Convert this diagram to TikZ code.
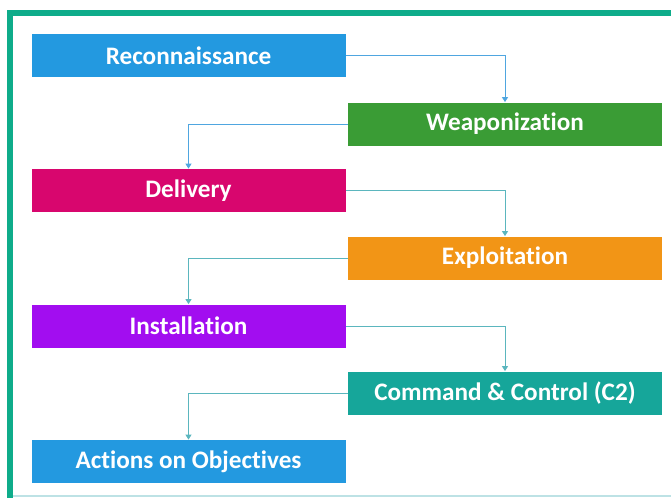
\documentclass[tikz,border=0pt]{standalone}
\usepackage{fontspec}
\setmainfont[Ligatures=NoCommon]{Carlito}
\definecolor{killblue}{HTML}{2399E0}
\definecolor{killgreen}{HTML}{3A9C35}
\definecolor{killmagenta}{HTML}{D8066E}
\definecolor{killorange}{HTML}{F29516}
\definecolor{killpurple}{HTML}{A20DF0}
\definecolor{killteal}{HTML}{16A69A}
\definecolor{killframe}{HTML}{0EAC8A}
\definecolor{linkblue}{HTML}{4FA6E0}
\definecolor{linkteal}{HTML}{5BB6BE}
\usetikzlibrary{arrows.meta}

\begin{document}
\begin{tikzpicture}[x=0.5pt, y=-0.5pt,
    stage/.style={minimum width=157pt, minimum height=21.5pt, inner sep=0pt,
      text=white, font=\fontsize{12.6}{15}\selectfont\bfseries},
    link/.style={-{Triangle[width=3pt,length=2.5pt]}, line width=0.5pt}]
        \useasboundingbox (0,0) rectangle (671,498);
        % Frame
        \draw[killframe, line width=3pt] (10,498) -- (10,13) -- (671,13);
        \draw[linkteal!40, line width=0.7pt] (13,496) -- (671,496);
        % Stages
        \node[stage, fill=killblue] (recon) at (188.5,55.5) {Reconnaissance};
        \node[stage, fill=killgreen] (weapon) at (505,124) {Weaponization};
        \node[stage, fill=killmagenta] (delivery) at (188.5,190.5) {Delivery};
        \node[stage, fill=killorange] (exploit) at (505,258) {Exploitation};
        \node[stage, fill=killpurple] (install) at (188.5,326) {Installation};
        \node[stage, fill=killteal] (ctwo) at (505,393) {Command \& Control (C2)};
        \node[stage, fill=killblue] (actions) at (188.5,461.5) {Actions on Objectives};
        % Links
        \draw[link, linkblue] (recon.east) -| (weapon.north);
        \draw[link, linkblue] (weapon.west) -| (delivery.north);
        \draw[link, linkteal] (delivery.east) -| (exploit.north);
        \draw[link, linkteal] (exploit.west) -| (install.north);
        \draw[link, linkteal] (install.east) -| (ctwo.north);
        \draw[link, linkteal] (ctwo.west) -| (actions.north);
      \end{tikzpicture}
\end{document}
